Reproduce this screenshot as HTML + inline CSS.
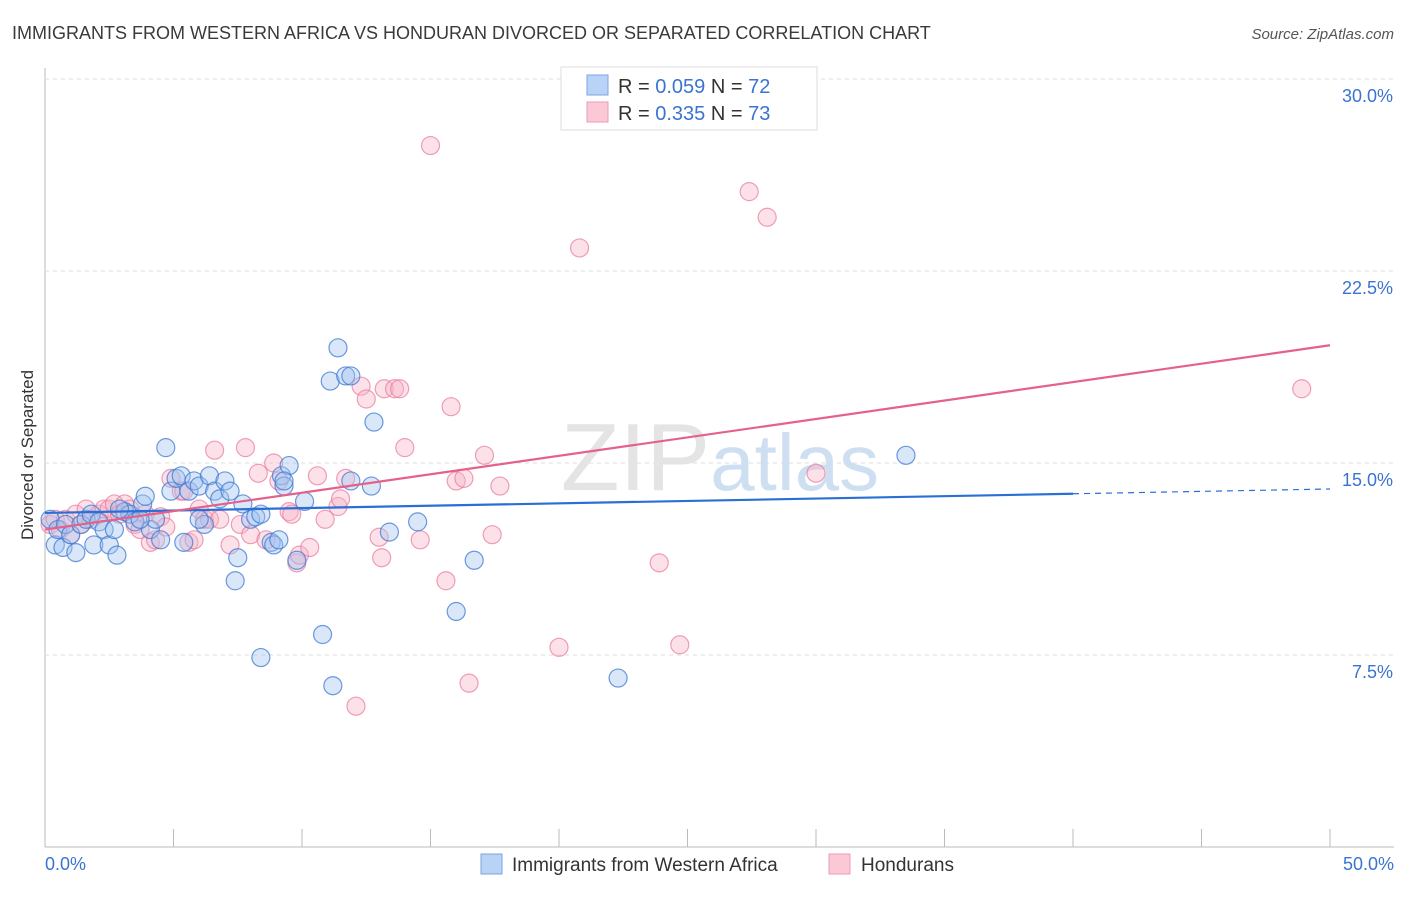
<!DOCTYPE html>
<html><head><meta charset="utf-8">
<style>
body{margin:0;background:#fff;font-family:"Liberation Sans",sans-serif;}
svg text{font-family:"Liberation Sans",sans-serif;}
</style></head>
<body>
<svg id="chart" width="1406" height="892" viewBox="0 0 1406 892" xmlns="http://www.w3.org/2000/svg">
<text x="12" y="39" font-size="18" fill="#3a3a3a">IMMIGRANTS FROM WESTERN AFRICA VS HONDURAN DIVORCED OR SEPARATED CORRELATION CHART</text>
<text x="1394" y="39" font-size="15" fill="#555" text-anchor="end" font-style="italic">Source: ZipAtlas.com</text>
<text transform="translate(33,455) rotate(-90)" font-size="17" fill="#333" text-anchor="middle">Divorced or Separated</text>
<g id="grid"></g>
<text x="720" y="490" font-size="96" text-anchor="middle" fill="#e4e4e4" font-family="Liberation Serif">ZIP<tspan fill="#cfdff2" font-family="Liberation Sans" font-size="80">atlas</tspan></text>
<g id="marks"></g>
<g id="lines"></g>
<g>
<rect x="561" y="67" width="256" height="63" fill="#fff" stroke="#ddd"/>
<rect x="587" y="75" width="21" height="20" fill="#b8d3f5" stroke="#7aa6e0"/>
<text x="618" y="93" font-size="20" fill="#333">R = <tspan fill="#3a74d0">0.059</tspan>   N = <tspan fill="#3a74d0">72</tspan></text>
<rect x="587" y="102" width="21" height="20" fill="#fbc9d6" stroke="#ec9ab2"/>
<text x="618" y="120" font-size="20" fill="#333">R =  <tspan fill="#3a74d0">0.335</tspan>   N = <tspan fill="#3a74d0">73</tspan></text>
</g>
<g>
<rect x="481" y="854" width="21" height="20" fill="#b8d3f5" stroke="#7aa6e0"/>
<text x="512" y="871" font-size="19" fill="#333">Immigrants from Western Africa</text>
<rect x="829" y="854" width="21" height="20" fill="#fbc9d6" stroke="#ec9ab2"/>
<text x="861" y="871" font-size="19" fill="#333">Hondurans</text>
</g>
</svg>
<script>
const xTicks=[0,5,10,15,20,25,30,35,40,45,50];
const yTicks=[7.5,15,22.5,30];
const yTickLabels=["7.5%","15.0%","22.5%","30.0%"];
const xTickLabels=["0.0%","50.0%"];
const blueX=[0.2,0.4,0.5,0.7,0.8,1.0,1.2,1.4,1.6,1.8,1.9,2.1,2.3,2.5,2.7,2.8,3.1,3.3,3.5,3.8,3.9,4.1,4.3,4.5,4.7,4.9,5.1,5.3,5.4,5.6,5.8,6.0,6.2,6.4,6.6,6.8,7.0,7.2,7.4,7.5,7.7,8.0,8.2,8.4,8.4,8.8,8.9,9.1,9.2,9.3,9.5,9.8,10.1,10.8,11.1,11.2,11.4,11.7,11.9,11.9,12.7,12.8,13.4,14.5,16.0,16.7,22.3,33.5,9.3,6.0,2.9,3.7];
const blueY=[12.8,11.8,12.4,11.7,12.6,12.2,11.5,12.6,12.8,13.0,11.8,12.7,12.4,11.8,12.4,11.4,13.1,13.0,12.7,13.4,13.7,12.4,12.8,12.0,15.6,13.9,14.4,14.5,11.9,13.9,14.3,14.1,12.6,14.5,13.9,13.6,14.3,13.9,10.4,11.3,13.4,12.8,12.9,7.4,13.0,11.9,11.8,12.0,14.5,14.1,14.9,11.2,13.5,8.3,18.2,6.3,19.5,18.4,18.4,14.3,14.1,16.6,12.3,12.7,9.2,11.2,6.6,15.3,14.3,12.8,13.2,12.8];
const pinkX=[0.2,0.4,0.6,0.8,1.0,1.2,1.4,1.6,1.8,2.1,2.3,2.5,2.7,2.9,3.1,3.3,3.5,3.7,3.9,4.1,4.3,4.5,4.7,4.9,5.3,5.4,5.6,5.8,6.0,6.2,6.4,6.6,6.8,7.2,7.6,7.8,8.0,8.3,8.6,8.9,9.1,9.5,9.6,9.8,9.9,10.3,10.6,10.9,11.4,11.5,11.7,12.3,12.5,13.0,13.1,13.2,13.6,13.8,14.0,14.6,15.0,15.6,15.8,16.0,16.3,16.5,17.1,17.4,17.7,20.0,20.8,23.9,24.7,27.4,28.1,30.0,48.9,12.1];
const pinkY=[12.6,12.8,12.4,12.8,12.2,13.0,12.6,13.2,12.8,13.0,13.2,13.2,13.4,13.0,13.4,13.2,12.6,12.4,13.0,11.9,12.0,12.9,12.5,14.4,13.9,13.9,11.9,12.0,13.2,12.8,12.8,15.5,12.8,11.8,12.6,15.6,12.2,14.6,12.0,15.0,14.3,13.1,13.0,11.1,11.4,11.7,14.5,12.8,13.3,13.6,14.4,18.0,17.5,12.1,11.3,17.9,17.9,17.9,15.6,12.0,27.4,10.4,17.2,14.3,14.4,6.4,15.3,12.2,14.1,7.8,23.4,11.1,7.9,25.6,24.6,14.6,17.9,5.5];
const blueTrend=[13.05,0.0187];
const pinkTrend=[12.4,0.144];
const sx=v=>45+v*25.7, sy=v=>847-v*25.6;
const NS="http://www.w3.org/2000/svg";
function mk(p,t,a){const e=document.createElementNS(NS,t);for(const k in a)e.setAttribute(k,a[k]);p.appendChild(e);return e;}
const g=document.getElementById('grid');
let e=mk(g,'line',{x1:45,y1:68,x2:45,y2:847,stroke:'#bbb'});


e=mk(g,'line',{x1:45,y1:847,x2:1394,y2:847,stroke:'#bbb'});


yTicks.forEach((t,i)=>{
 e=mk(g,'line',{x1:45,y1:sy(t),x2:1394,y2:sy(t),stroke:'#ddd','stroke-dasharray':'4,4'});
 
 
 e=mk(g,'text',{x:1393,y:sy(t)+23,'font-size':18,fill:'#3a74d0','text-anchor':'end'});
 e.textContent=yTickLabels[i];
 
 
});
xTicks.forEach(t=>{
 e=mk(g,'line',{x1:sx(t),y1:829,x2:sx(t),y2:847,stroke:'#bbb'});
 
 
});
e=mk(g,'text',{x:45,y:870,'font-size':18,fill:'#3a74d0'});e.textContent=xTickLabels[0];


e=mk(g,'text',{x:1394,y:870,'font-size':18,fill:'#3a74d0','text-anchor':'end'});e.textContent=xTickLabels[1];


const m=document.getElementById('marks');
pinkX.forEach((x,i)=>{
 e=mk(m,'circle',{cx:sx(x),cy:sy(pinkY[i]),r:9,fill:'rgba(248,180,200,0.4)',stroke:'rgba(232,120,155,0.7)','stroke-width':1.2});
 
 
});
blueX.forEach((x,i)=>{
 e=mk(m,'circle',{cx:sx(x),cy:sy(blueY[i]),r:9,fill:'rgba(160,195,240,0.4)',stroke:'rgba(60,120,210,0.75)','stroke-width':1.2});
 
 
});
const l=document.getElementById('lines');
e=mk(l,'line',{x1:sx(0),y1:sy(blueTrend[0]),x2:sx(40),y2:sy(blueTrend[0]+blueTrend[1]*40),stroke:'#2a6fd6','stroke-width':2.2});


e=mk(l,'line',{x1:sx(40),y1:sy(blueTrend[0]+blueTrend[1]*40),x2:sx(50),y2:sy(blueTrend[0]+blueTrend[1]*50),stroke:'#2a6fd6','stroke-width':1.2,'stroke-dasharray':'6,5'});


e=mk(l,'line',{x1:sx(0),y1:sy(pinkTrend[0]),x2:sx(50),y2:sy(pinkTrend[0]+pinkTrend[1]*50),stroke:'#e4628a','stroke-width':2.2});


</script>
</body></html>
